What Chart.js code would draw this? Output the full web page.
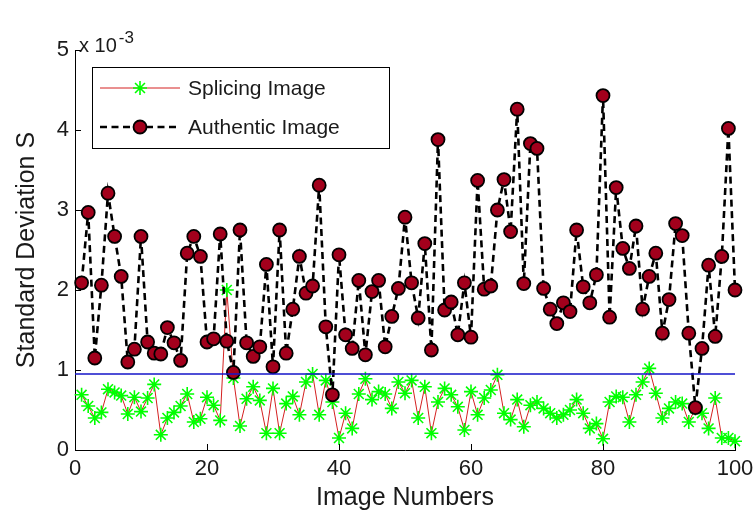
<!DOCTYPE html>
<html><head><meta charset="utf-8">
<script src="https://cdn.jsdelivr.net/npm/chart.js@4.4.1/dist/chart.umd.min.js"></script>
<style>html,body{margin:0;padding:0;background:#fff;}canvas{display:block;}</style>
</head><body>
<canvas id="c" width="753" height="523"></canvas>
<script>
// ---- data (values in units of 10^-3) ----
const imageNumbers = [1,2,3,4,5,6,7,8,9,10,11,12,13,14,15,16,17,18,19,20,
  21,22,23,24,25,26,27,28,29,30,31,32,33,34,35,36,37,38,39,40,
  41,42,43,44,45,46,47,48,49,50,51,52,53,54,55,56,57,58,59,60,
  61,62,63,64,65,66,67,68,69,70,71,72,73,74,75,76,77,78,79,80,
  81,82,83,84,85,86,87,88,89,90,91,92,93,94,95,96,97,98,99,100];

const splicing = [0.69,0.55,0.40,0.47,0.76,0.72,0.68,0.45,0.66,0.48,
  0.65,0.82,0.19,0.40,0.47,0.55,0.70,0.35,0.39,0.66,
  0.56,0.37,2.00,0.90,0.30,0.64,0.79,0.62,0.21,0.77,
  0.21,0.58,0.67,0.44,0.85,0.95,0.44,0.87,0.60,0.15,
  0.46,0.27,0.70,0.89,0.63,0.73,0.70,0.52,0.85,0.71,
  0.87,0.40,0.79,0.21,0.60,0.77,0.69,0.54,0.25,0.73,
  0.44,0.65,0.75,0.94,0.46,0.38,0.63,0.29,0.56,0.60,
  0.52,0.46,0.40,0.44,0.50,0.63,0.46,0.27,0.33,0.14,
  0.60,0.67,0.66,0.35,0.69,0.85,1.02,0.71,0.40,0.52,
  0.60,0.58,0.35,0.52,0.46,0.27,0.65,0.15,0.15,0.11];

const authentic = [2.09,2.97,1.15,2.06,3.21,2.67,2.17,1.10,1.26,2.67,
  1.35,1.21,1.20,1.53,1.34,1.12,2.46,2.67,2.42,1.35,
  1.39,2.70,1.36,0.97,2.75,1.34,1.17,1.29,2.32,1.04,
  2.75,1.21,1.76,2.42,1.96,2.05,3.31,1.54,0.69,2.44,
  1.44,1.27,2.12,1.19,1.98,2.12,1.29,1.67,2.02,2.91,
  2.09,1.65,2.58,1.25,3.88,1.75,1.85,1.44,2.09,1.41,
  3.37,2.01,2.05,3.00,3.38,2.73,4.26,2.08,3.83,3.77,
  2.02,1.76,1.58,1.84,1.73,2.75,2.04,1.84,2.19,4.43,
  1.66,3.28,2.52,2.27,2.80,1.76,2.17,2.46,1.46,1.88,
  2.83,2.68,1.46,0.53,1.27,2.31,1.42,2.42,4.02,2.00];

const thresholdX = [0, 100];
const thresholdY = [0.95, 0.95];

const xTicks = [0,20,40,60,80,100];
const yTicks = [0,1,2,3,4,5];
const seriesLabels = ['Splicing Image','Authentic Image'];
const xTitle = 'Image Numbers';
const yTitle = 'Standard Deviation S';

// ---- chart ----
const FONT = "'Liberation Sans', Arial, Helvetica, sans-serif";
const TXT = '#1a1a1a';

const inwardTicks = {id:'inwardTicks', afterDraw(chart){
  const {ctx, chartArea:ca, scales:{x,y}} = chart;
  ctx.save(); ctx.strokeStyle='#000'; ctx.lineWidth=1;
  x.ticks.forEach(t=>{const px=Math.round(x.getPixelForValue(t.value))+0.5;
    ctx.beginPath(); ctx.moveTo(px, ca.bottom); ctx.lineTo(px, ca.bottom-6); ctx.stroke();});
  y.ticks.forEach(t=>{const py=Math.round(y.getPixelForValue(t.value))+0.5;
    ctx.beginPath(); ctx.moveTo(ca.left, py); ctx.lineTo(ca.left+6, py); ctx.stroke();});
  ctx.restore();
}};

const expLabel = {id:'expLabel', afterDraw(chart){
  const {ctx, chartArea:ca} = chart;
  ctx.save(); ctx.fillStyle=TXT; ctx.textBaseline='middle'; ctx.textAlign='left';
  ctx.font = `20px ${FONT}`;
  const base = 'x 10';
  ctx.fillText(base, ca.left+4, ca.top-4);
  const w = ctx.measureText(base).width;
  ctx.font = `17px ${FONT}`;
  ctx.fillText('-3', ca.left+6+w, ca.top-12);
  ctx.restore();
}};

const boxLegend = {id:'boxLegend', afterDraw(chart){
  const {ctx, chartArea:ca} = chart;
  const bx = ca.left+17, by = ca.top+17, bw = 297, bh = 81;
  ctx.save();
  ctx.fillStyle='#fff'; ctx.fillRect(bx,by,bw,bh);
  ctx.strokeStyle='#000'; ctx.lineWidth=1; ctx.strokeRect(bx+0.5,by+0.5,bw,bh);
  [0,1].forEach((di,k)=>{
    const ds = chart.data.datasets[di];
    const cy = by + 21 + k*39;
    const x0 = bx+8, x1 = bx+88, xm = (x0+x1)/2;
    ctx.save();
    ctx.strokeStyle = ds.borderColor; ctx.lineWidth = ds.borderWidth; ctx.setLineDash(ds.borderDash||[]);
    ctx.beginPath(); ctx.moveTo(x0,cy); ctx.lineTo(x1,cy); ctx.stroke();
    ctx.restore();
    ctx.save();
    ctx.strokeStyle = ds.pointBorderColor; ctx.fillStyle = ds.pointBackgroundColor; ctx.lineWidth = ds.pointBorderWidth;
    Chart.helpers.drawPoint(ctx, {pointStyle: ds.pointStyle, radius: ds.pointRadius, borderWidth: ds.pointBorderWidth, rotation: 0}, xm, cy);
    ctx.restore();
    ctx.fillStyle = TXT; ctx.font = `21px ${FONT}`; ctx.textBaseline='middle'; ctx.textAlign='left';
    ctx.fillText(ds.label, bx+96, cy+1);
  });
  ctx.restore();
}};

new Chart(document.getElementById('c'), {
  type: 'line',
  data: { datasets: [
    { label: seriesLabels[0],
      data: imageNumbers.map((n,i)=>({x:n, y:splicing[i]})),
      borderColor: '#d42020', borderWidth: 1, tension: 0,
      pointStyle: 'star', pointRadius: 7, pointBorderColor: '#00ff00', pointBackgroundColor: '#00ff00',
      pointBorderWidth: 1.6, clip: false, order: 3 },
    { label: seriesLabels[1],
      data: imageNumbers.map((n,i)=>({x:n, y:authentic[i]})),
      borderColor: '#000000', borderWidth: 2.6, borderDash: [7,4.5], tension: 0,
      pointStyle: 'circle', pointRadius: 6.5, pointBackgroundColor: '#a3001c', pointBorderColor: '#000000',
      pointBorderWidth: 1.8, clip: false, order: 2 },
    { label: 'threshold',
      data: thresholdX.map((v,i)=>({x:v, y:thresholdY[i]})),
      borderColor: '#1414c8', borderWidth: 1.3, pointRadius: 0, tension: 0, order: 1 }
  ]},
  options: {
    responsive: false, animation: false, devicePixelRatio: 1,
    layout: { padding: { top: 50, right: 0, left: 0, bottom: 0 } },
    plugins: { legend: { display: false }, tooltip: { enabled: false } },
    scales: {
      x: { type: 'linear', min: 0, max: 100,
        afterBuildTicks: s => { s.ticks = xTicks.map(v => ({value: v})); },
        afterFit: s => { s.height = 73; s.paddingRight = 18; s.paddingLeft = 0; },
        grid: { display: false, drawTicks: false },
        border: { display: true, color: '#000', width: 1 },
        ticks: { font: { family: FONT, size: 22 }, color: TXT, padding: 6, maxRotation: 0, autoSkip: false },
        title: { display: true, text: xTitle, font: { family: FONT, size: 25 }, color: TXT, padding: { top: 0, bottom: 10 } } },
      y: { type: 'linear', min: 0, max: 5,
        afterBuildTicks: s => { s.ticks = yTicks.map(v => ({value: v})); },
        afterFit: s => { s.width = 75; },
        grid: { display: false, drawTicks: false },
        border: { display: true, color: '#000', width: 1 },
        ticks: { font: { family: FONT, size: 22 }, color: TXT, padding: 6, autoSkip: false },
        title: { display: true, text: yTitle, font: { family: FONT, size: 25 }, color: TXT, padding: { top: 12, bottom: 0 } } }
    }
  },
  plugins: [inwardTicks, expLabel, boxLegend]
});
</script>
</body></html>
